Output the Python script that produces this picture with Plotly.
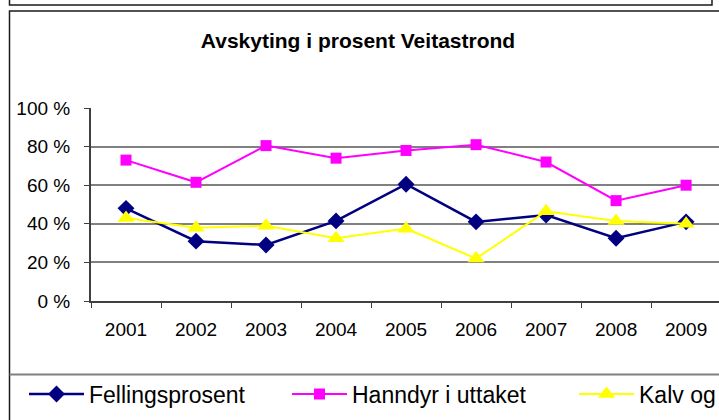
import plotly.graph_objects as go

# Data
aar = ["2001", "2002", "2003", "2004", "2005", "2006", "2007", "2008", "2009"]
fellingsprosent = [48, 31, 29, 41.5, 60.5, 41, 44.5, 32.5, 41]
hanndyr_i_uttaket = [73, 61.5, 80.5, 74, 78, 81, 72, 52, 60]
kalv_og = [43, 38, 39, 32.5, 37.5, 22, 46.5, 41.5, 40]
y_ticks = [0, 20, 40, 60, 80, 100]
y_tick_text = ["0 %", "20 %", "40 %", "60 %", "80 %", "100 %"]

FONT = "Liberation Sans, Arial, sans-serif"

W, H = 719, 420

# plot area in window pixels (left, right, top, bottom)
PL, PR, PT, PB = 91, 719, 108, 301


def px_x(px):
    return (px - PL) / (PR - PL)


def px_y(py):
    return (PB - py) / (PB - PT)


def cx(px):
    # container x from window pixel
    return px / W


def cy(py):
    # container y from window pixel
    return 1 - py / H


fig = go.Figure()

fig.add_trace(go.Scatter(
    x=aar, y=fellingsprosent, name="Fellingsprosent",
    mode="lines+markers",
    line=dict(color="#000080", width=2.5),
    marker=dict(symbol="diamond", size=13, color="#000080"),
    legend="legend",
))
fig.add_trace(go.Scatter(
    x=aar, y=hanndyr_i_uttaket, name="Hanndyr i uttaket",
    mode="lines+markers",
    line=dict(color="#FF00FF", width=2),
    marker=dict(symbol="square", size=11, color="#FF00FF"),
    legend="legend2",
))
fig.add_trace(go.Scatter(
    x=aar, y=kalv_og, name="Kalv og",
    mode="lines+markers",
    line=dict(color="#FFFF00", width=2),
    marker=dict(symbol="triangle-up", size=15, color="#FFFF00"),
    legend="legend3",
))

# Boxes around the chart (Excel style frames)
frame = dict(color="#1a1a1a", width=1.5)
shapes = [
    dict(type="rect", xref="paper", yref="paper",
         x0=px_x(9.5), x1=px_x(712), y0=px_y(-10), y1=px_y(5),
         line=frame, layer="above"),
    dict(type="rect", xref="paper", yref="paper",
         x0=px_x(9.5), x1=px_x(740), y0=px_y(11), y1=px_y(440),
         line=frame, layer="above"),
    dict(type="line", xref="paper", yref="paper",
         x0=px_x(9.5), x1=px_x(740), y0=px_y(374.5), y1=px_y(374.5),
         line=dict(color="#808080", width=2), layer="above"),
]

legend_style = dict(
    orientation="h", yanchor="middle", xanchor="left",
    xref="container", yref="container",
    font=dict(family=FONT, size=23, color="#000000"),
    bgcolor="rgba(0,0,0,0)", itemwidth=55,
)

fig.update_layout(
    width=W,
    height=H,
    margin=dict(l=PL, r=W - PR, t=PT, b=H - PB),
    paper_bgcolor="white",
    plot_bgcolor="white",
    font=dict(family=FONT, size=19, color="#000000"),
    title=dict(
        text="<b>Avskyting i prosent Veitastrond</b>",
        xref="container", yref="container",
        x=cx(358), xanchor="center",
        y=cy(41), yanchor="middle",
        font=dict(family=FONT, size=21, color="#000000"),
    ),
    shapes=shapes,
    showlegend=True,
    legend=dict(x=cx(24), y=cy(394), **legend_style),
    legend2=dict(x=cx(287), y=cy(394), **legend_style),
    legend3=dict(x=cx(574), y=cy(394), **legend_style),
)

fig.update_xaxes(
    type="category",
    range=[-0.5, 8.47],
    showgrid=False,
    showline=True, linecolor="#404040", linewidth=2,
    ticks="outside", tickson="boundaries", ticklen=5, tickcolor="#404040",
    tickfont=dict(family=FONT, size=19),
    ticklabelstandoff=10,
    zeroline=False,
)
fig.update_yaxes(
    range=[0, 100],
    tickvals=y_ticks,
    ticktext=y_tick_text,
    showgrid=True, gridcolor="#808080", gridwidth=1.5,
    showline=True, linecolor="#404040", linewidth=2,
    ticks="outside", ticklen=5, tickcolor="#404040",
    tickfont=dict(family=FONT, size=19),
    ticklabelstandoff=10,
    zeroline=False,
)

# drop the default page margin so the figure fills the window
fig.write_html(
    "out.html",
    config={"displayModeBar": False},
    post_script="document.body.style.margin = '0';",
)
